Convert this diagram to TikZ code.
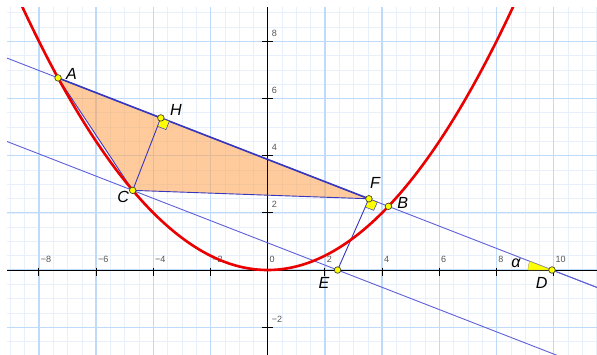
\documentclass[tikz,border=0pt]{standalone}
\usepackage{fontspec}
\setmainfont{Liberation Sans}
\usetikzlibrary{calc}
\definecolor{gridmaj}{RGB}{190,220,250}
\definecolor{gridmin}{RGB}{232,240,252}
\definecolor{parab}{RGB}{235,0,0}
\definecolor{lineblue}{RGB}{95,95,215}
\definecolor{edgeblue}{RGB}{55,55,190}
\definecolor{triorange}{RGB}{255,160,75}
\definecolor{ticklab}{RGB}{85,85,85}
\definecolor{ptyellow}{RGB}{255,255,0}
\definecolor{ptedge}{RGB}{70,70,40}
\tikzset{
  ptmark/.style={circle, fill=ptyellow, draw=ptedge, line width=0.7pt, inner sep=0pt, minimum size=6.5pt},
  ptlabel/.style={font=\fontsize{16}{16}\selectfont\itshape, inner sep=0pt, anchor=center},
  ticklabel/.style={font=\fontsize{9}{9}\selectfont, text=ticklab, inner sep=0pt, anchor=base west},
  thinline/.style={lineblue, line width=0.9pt},
  edgeline/.style={edgeblue, line width=0.9pt},
  rightmark/.style={fill=ptyellow, draw=edgeblue, line width=0.5pt},
}
\begin{document}
\begin{tikzpicture}
\useasboundingbox (-9.360,-2.937) rectangle (11.514,9.441);
% geometry
\coordinate (A) at (-7.33,6.716);
\coordinate (B) at (4.22,2.226);
\coordinate (C) at (-4.72,2.785);
\coordinate (F) at ($(A)!0.9411!(B)$);
\coordinate (H) at ($(A)!(C)!(B)$);
\coordinate (D) at (9.94,0);
\coordinate (E) at (2.443,0);
\coordinate (L1) at ($(A)!-0.3!(B)$);
\coordinate (L2) at ($(A)!1.8!(B)$);
\coordinate (M1) at ($(C)!-1!(E)$);
\coordinate (M2) at ($(C)!2.2!(E)$);
\begin{scope}
\clip (-9.115,-2.937) rectangle (11.514,9.196);
\draw[gridmin, line width=0.5pt] (-10,-4) grid[step=0.5] (12,10);
\draw[gridmaj, line width=1.3pt] (-10,-4) grid[step=2] (12,10);
% triangle
\fill[triorange, fill opacity=0.55] (A) -- (C) -- (F) -- cycle;
% axes
\draw[black, line width=0.8pt] (-9.2,0) -- (11.6,0);
\draw[black, line width=0.8pt] (0,-3) -- (0,9.3);
\foreach \x/\t in {-8/−8,-6/−6,-4/−4,-2/−2,2/2,4/4,6/6,8/8,10/10}{
  \draw[black, line width=0.8pt] (\x,0.08) -- (\x,-0.21);
  \node[ticklabel] at (\x+0.06,0.25) {\t};
}
\node[ticklabel] at (0.06,0.25) {0};
\foreach \y/\t in {-2/−2,2/2,4/4,6/6,8/8}{
  \draw[black, line width=0.8pt] (-0.2,\y) -- (0.2,\y);
  \node[ticklabel] at (0.14,\y+0.18) {\t};
}
% lines
\draw[thinline] (L1) -- (L2);
\draw[thinline] (M1) -- (M2);
\draw[edgeline] (A) -- (C) -- (F);
\draw[edgeblue, line width=1.6pt] (A) -- (F);
\draw[edgeline] (C) -- (H);
\draw[edgeline] (E) -- (F);
% angle at D
\fill[ptyellow, draw=ptedge!60, line width=0.3pt] (D) -- ++(180:0.84) arc[start angle=180, end angle=158.75, radius=0.84] -- cycle;
\draw[thinline] (D) -- (L2);
% right angle marks
\coordinate (Hb) at ($(H)!9pt!(B)$);
\coordinate (Hc) at ($(H)!9pt!(C)$);
\filldraw[rightmark] (H) -- (Hb) -- ($(Hb)+(Hc)-(H)$) -- (Hc) -- cycle;
\coordinate (Fb) at ($(F)!9pt!(B)$);
\coordinate (Fe) at ($(F)!9pt!(E)$);
\filldraw[rightmark] (F) -- (Fb) -- ($(Fb)+(Fe)-(F)$) -- (Fe) -- cycle;
% parabola
\draw[parab, line width=2.6pt, domain=-9:9, samples=120, smooth] plot (\x,{\x*\x/8});
\end{scope}
% points
\node[ptmark] (pA) at (A) {};
\node[ptmark] (pH) at (H) {};
\node[ptmark] (pC) at (C) {};
\node[ptmark] (pF) at (F) {};
\node[ptmark] (pB) at (B) {};
\node[ptmark] (pE) at (E) {};
\node[ptmark] (pD) at (D) {};
% labels
\node[ptlabel] (lA) at (-6.86,6.87) {A};
\node[ptlabel] (lH) at (-3.21,5.59) {H};
\node[ptlabel] (lC) at (-5.05,2.54) {C};
\node[ptlabel] (lF) at (3.75,3.03) {F};
\node[ptlabel] (lB) at (4.72,2.35) {B};
\node[ptlabel] (lE) at (1.97,-0.47) {E};
\node[ptlabel] (lD) at (9.58,-0.47) {D};
\node[ptlabel] (lal) at (8.68,0.23) {α};
\end{tikzpicture}
\end{document}
